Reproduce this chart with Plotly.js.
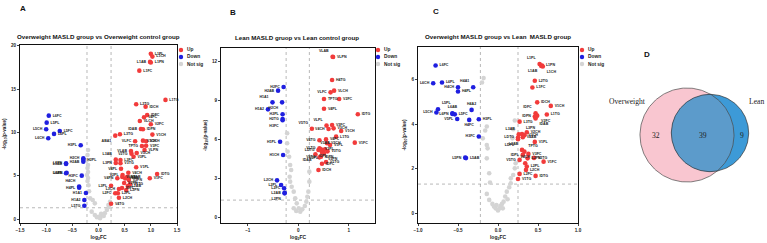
<!DOCTYPE html>
<html><head><meta charset="utf-8">
<script src="https://cdn.plot.ly/plotly-3.0.1.min.js"></script>
<style>html,body{margin:0;padding:0;background:#fff;}#chart{width:767px;height:243px;}</style>
</head><body><div id="chart"></div>
<script>
// ---------- Panel A: Overweight MASLD vs Overweight control ----------
const aUpLab = ["L1PL","L1CH","L1AB","L1PN","L1FC","L1TG","L2TG","IDCH","IDFC","V4FC","VLCH","V2FC","IDAB","IDPN","L3TG","ABA1","V1CH","VLFC","V3CH","V2CH","V3FC","TPTG","VLPN","VLAB","V2TG","V5CH","V3PL","L3AB","L3PN","L3FC","V3TG","V4PL","V1PL","IDTG","V1FC","V2PL","V4CH","V4PN","V1TG","L3PL","L3CH","L2PL","L2CH","L2FC","V4TG","V3AB","V4AB","V2AB","V3PN","V2PN","L2AB","IDPL","L2PN"];
const aUpX = [1.00,1.03,0.985,1.00,0.78,1.28,0.72,0.90,0.93,0.87,0.79,1.00,0.81,0.85,0.41,0.32,1.03,0.70,0.85,0.91,0.91,0.83,0.88,0.62,0.63,0.73,0.67,0.33,0.33,0.42,0.42,0.43,0.72,1.12,0.98,0.46,0.57,0.36,0.60,0.24,0.39,0.37,0.39,0.32,0.24,0.455,0.51,0.545,0.58,0.49,0.56,0.45,0.53];
const aUpY = [19.08,18.76,18.15,18.07,17.14,13.76,13.26,12.98,12.02,11.76,11.33,10.95,10.40,10.37,9.79,9.63,9.75,8.98,9.05,8.98,8.47,8.44,7.98,7.86,7.55,7.63,7.20,6.86,6.47,6.82,6.44,5.81,5.98,5.20,4.71,5.09,5.35,4.71,4.01,3.85,3.47,2.97,2.46,2.97,1.77,4.86,4.68,4.86,4.51,4.16,3.82,3.58,3.35];
const aDnLab = ["L6FC","L5PL","L5CH","L5FC","L6PL","L6CH","H3PL","H2CH","H2PL","H2AB","L5PN","L5AB","L6PN","L6AB","H3FC","H4CH","H4PL","H1A1","H1A2","L5TG"];
const aDnX = [-0.95,-0.99,-1.00,-0.74,-0.85,-0.96,-0.34,-0.29,-0.29,-0.29,-0.62,-0.62,-0.61,-0.62,-0.32,-0.37,-0.37,-0.24,-0.27,-0.27];
const aDnY = [11.94,11.13,10.37,10.17,9.83,9.33,8.52,7.02,6.86,6.62,6.44,6.36,5.35,5.28,5.01,3.75,3.62,3.01,2.20,1.54];
const aNsX = [-0.20,-0.21,-0.22,-0.20,-0.21,-0.20,-0.22,-0.20,-0.21,-0.19,-0.16,-0.11,-0.07,-0.13,-0.07,0.00,0.03,0.06,0.12,0.16,0.19,0.22,0.05,0.10,-0.03,-0.18,0.20];
const aNsY = [7.98,7.40,6.82,6.24,5.90,5.43,5.09,4.74,4.39,3.90,2.39,2.20,1.81,0.85,0.46,0.27,0.08,0.46,0.66,1.04,1.62,2.00,0.60,0.35,0.20,3.20,1.40];

// ---------- Panel B: Lean MASLD vs Lean control ----------
const bUpLab = ["VLPN","VLAB","H4TG","VLFC","VLCH","TPTG","V2FC","V4PL","IDTG","V5TG","VLPL","V3FC","V3CH","V4CH","V1CH","V4TG","V4FC","L1TG","V2CH","V1PL","V1FC","VLTG","LDTG","V3PL","IDPL","V3AB","V2PL","V3PN","V3TG","V2TG","IDPN","V1TG","IDFC","IDCH","IDAB"];
const bUpX = [0.69,0.68,0.67,0.64,0.71,0.51,0.81,0.51,1.18,0.27,0.56,0.67,0.70,0.60,0.85,0.42,0.55,0.75,0.57,0.63,1.12,0.42,0.40,0.45,0.49,0.53,0.47,0.51,0.58,0.42,0.45,0.55,0.47,0.40,0.34];
const bUpY = [12.31,12.33,10.54,9.59,9.72,9.08,9.08,8.33,7.90,6.79,7.03,7.08,6.82,6.77,6.62,5.90,5.97,6.18,5.67,5.54,5.72,5.28,5.15,5.21,5.10,5.21,4.97,4.89,5.05,4.59,4.64,4.23,4.10,3.62,4.82];
const bDnLab = ["H2FC","H2AB","H1A1","H2CH","H1A2","H2PL","H2TG","H3FC","H1PL","H1CH","L2CH","L2PL","L2FC","L2AB","L2PN"];
const bDnX = [-0.29,-0.40,-0.51,-0.32,-0.60,-0.31,-0.31,-0.31,-0.36,-0.30,-0.42,-0.34,-0.28,-0.27,-0.27];
const bDnY = [10.00,9.72,8.82,8.82,8.28,7.90,7.54,7.45,5.79,4.77,2.82,2.46,2.21,1.87,1.82];
const bNsX = [-0.22,-0.22,-0.21,-0.18,-0.16,-0.14,-0.17,-0.16,-0.13,-0.09,-0.06,-0.03,0.01,0.04,0.08,0.13,0.16,0.18,0.20,0.22,0.22,-0.09,-0.04];
const bNsY = [6.44,5.67,5.03,4.64,4.00,3.62,3.10,2.72,2.33,1.95,1.44,1.05,0.67,0.41,0.59,0.85,1.18,1.56,1.95,2.72,3.49,0.67,0.46];

// ---------- Panel C: Overweight MASLD vs Lean MASLD ----------
const cUpLab = ["L1PL","L1PN","L1AB","L1CH","L2TG","L1FC","IDCH","V1CH","IDFC","V2FC","IDPN","L1TG","IDAB","L3TG","V2CH","L3AB","L3PN","V3CH","LDTG","LDPL","V4AB","V1PL","L2AB","TPTG","V3FC","IDPL","L2PN","V2TG","V1FC","V5TG","V4CH","L2PL","L2CH","L2FC","IDTG","V1TG"];
const cUpX = [0.52,0.55,0.54,0.56,0.46,0.43,0.49,0.66,0.47,0.49,0.46,0.61,0.47,0.27,0.36,0.26,0.30,0.33,0.25,0.25,0.31,0.46,0.30,0.33,0.38,0.31,0.37,0.45,0.57,0.27,0.34,0.36,0.35,0.27,0.47,0.25];
const cUpY = [6.70,6.64,6.62,6.59,5.95,5.65,4.98,4.82,4.49,4.38,4.34,4.43,4.25,4.11,3.63,3.54,3.55,3.50,3.40,3.32,3.41,3.20,2.84,2.76,2.66,2.62,2.46,2.48,2.31,2.39,2.24,2.09,1.94,1.76,1.67,1.53];
const cDnLab = ["L6FC","L6CH","L6PL","H4CH","H4A1","H4PL","L5PL","L5CH","L6AB","L6PN","L5FC","H4A2","V5PL","H4FC","H3PL","H3FC","L5PN","L5AB"];
const cDnX = [-0.78,-0.81,-0.70,-0.50,-0.31,-0.50,-0.75,-0.77,-0.57,-0.57,-0.54,-0.33,-0.51,-0.36,-0.24,-0.24,-0.41,-0.40];
const cDnY = [6.64,5.84,5.87,5.66,5.66,5.47,4.67,4.52,4.49,4.46,4.44,4.64,4.23,4.19,4.22,3.44,2.49,2.47];
const cNsX = [-0.18,-0.20,-0.14,-0.16,-0.19,-0.14,-0.13,-0.14,-0.11,-0.10,-0.14,-0.11,-0.07,-0.03,0.00,0.02,0.05,0.07,0.09,0.11,0.14,0.16,0.16,0.19,0.21,0.22,0.18,0.19,0.21,-0.05,-0.02,0.03,0.06,0.12];
const cNsY = [6.07,5.87,3.89,3.71,3.36,3.06,2.91,2.46,1.79,1.37,0.86,0.59,0.41,0.21,0.11,0.21,0.41,0.51,0.74,0.96,1.16,1.34,1.56,1.71,2.01,2.24,3.36,3.77,4.16,0.29,0.36,0.32,0.21,0.62];

// thresholds
const aFcCuts = [-0.22, 0.24];
const bFcCuts = [-0.24, 0.22];
const cFcCuts = [-0.22, 0.25];
const pCut = 1.30103; // -log10(0.05)

// ---------- Panel D: Venn ----------
const vennNames = ["Overweight", "Lean"];
const onlyOverweight = 32;
const bothGroups = 39;
const onlyLean = 9;

// ---------- styling ----------
const RED = "#F23B3B", BLUE = "#1F1FE0", GREY = "#D4D4D4";
const W = 767, H = 243;
const FONT = "Liberation Sans, Arial, sans-serif";
const labFont = {family: FONT, size: 3.6, color: "#222", weight: "bold"};

const posA = {up: {"L1AB":"middle left","IDAB":"middle left","ABA1":"bottom left","VLFC":"middle left","TPTG":"middle left","VLAB":"middle left","V2TG":"middle left","L3AB":"top left","L3PN":"middle left","V4PL":"middle left","L3PL":"middle left","V4PN":"middle left","L2FC":"middle left","L3CH":"middle left","V2PL":"middle left"},
  dn: {"L6FC":"middle right","L5PL":"middle right","L5FC":"middle right","L6PL":"middle right","H2PL":"middle right","H4CH":"top left"}, dnDefault:"middle left"};
const posB = {up: {"VLAB":"top left","VLFC":"middle left","V5TG":"top left","VLPL":"top left","V4CH":"middle left","V4TG":"middle left","VLTG":"middle left","LDTG":"middle left","V2TG":"middle left","IDAB":"bottom left","IDPL":"bottom center","V3AB":"top center","V2PL":"bottom left","V3PN":"bottom right"},
  dn: {"H1A1":"top left","H2CH":"bottom left","H3FC":"bottom left","L2PN":"bottom left"}, dnDefault:"middle left"};
const posC = {up: {"L1PL":"top left","L1AB":"bottom left","L1CH":"bottom right","V2FC":"bottom right","IDAB":"bottom right","IDFC":"top left","IDPN":"middle left","L3AB":"top left","L3PN":"top right","LDTG":"middle left","LDPL":"bottom left","L2AB":"top left","TPTG":"top right","IDPL":"middle left","V5TG":"middle left","V4CH":"top center"},
  dn: {"L6CH":"middle left","H4CH":"middle left","H4A1":"top left","L5PL":"top right","L5CH":"middle left","L6AB":"top center","L6PN":"middle left","H4A2":"top center","V5PL":"middle left","H4FC":"bottom center","H3FC":"middle left","L5PN":"middle left"}, dnDefault:"middle right"};

function positions(labels, map, def){ return labels.map(l => map[l] || def); }

const traces = [];
function addPanel(k, up, dn, ns, pos){
  const xa = k===1 ? "x" : "x"+k, ya = k===1 ? "y" : "y"+k;
  traces.push({type:"scatter", mode:"markers", x:ns[0], y:ns[1], xaxis:xa, yaxis:ya,
    marker:{color:GREY, size:4.6}, name:"Not sig", showlegend:false, cliponaxis:false});
  traces.push({type:"scatter", mode:"markers+text", x:dn[0], y:dn[1], text:dn[2], xaxis:xa, yaxis:ya,
    textposition: positions(dn[2], pos.dn, pos.dnDefault), textfont: labFont,
    marker:{color:BLUE, size:4.6}, name:"Down", showlegend:false, cliponaxis:false});
  traces.push({type:"scatter", mode:"markers+text", x:up[0], y:up[1], text:up[2], xaxis:xa, yaxis:ya,
    textposition: positions(up[2], pos.up, "middle right"), textfont: labFont,
    marker:{color:RED, size:4.6}, name:"Up", showlegend:false, cliponaxis:false});
}
addPanel(1, [aUpX,aUpY,aUpLab], [aDnX,aDnY,aDnLab], [aNsX,aNsY], posA);
addPanel(2, [bUpX,bUpY,bUpLab], [bDnX,bDnY,bDnLab], [bNsX,bNsY], posB);
addPanel(3, [cUpX,cUpY,cUpLab], [cDnX,cDnY,cDnLab], [cNsX,cNsY], posC);

// ---- Venn geometry from set sizes ----
const sizeOW = onlyOverweight + bothGroups, sizeLean = onlyLean + bothGroups;
const kR = 5.58;
const rOW = kR*Math.sqrt(sizeOW), rLean = kR*Math.sqrt(sizeLean);
const cOW = [687, 108], cLean = [710, 110];
function circlePts(c, r, n){ const xs=[], ys=[]; for(let i=0;i<=n;i++){const t=2*Math.PI*i/n; xs.push(c[0]+r*Math.cos(t)); ys.push(c[1]+r*Math.sin(t));} return [xs,ys]; }
const owC = circlePts(cOW, rOW, 240), leC = circlePts(cLean, rLean, 240);
let lens = [];
owC[0].forEach((x,i)=>{const y=owC[1][i]; if(Math.hypot(x-cLean[0],y-cLean[1])<=rLean) lens.push([x,y]);});
leC[0].forEach((x,i)=>{const y=leC[1][i]; if(Math.hypot(x-cOW[0],y-cOW[1])<=rOW) lens.push([x,y]);});
const gx = lens.reduce((s,p)=>s+p[0],0)/lens.length, gy = lens.reduce((s,p)=>s+p[1],0)/lens.length;
lens.sort((p,q)=>Math.atan2(p[1]-gy,p[0]-gx)-Math.atan2(q[1]-gy,q[0]-gx));
lens.push(lens[0]);
const vx = "x4", vy = "y4";
traces.push({type:"scatter", mode:"lines", x:owC[0], y:owC[1], xaxis:vx, yaxis:vy, fill:"toself", fillcolor:"#F9C6D0", line:{width:0}, showlegend:false});
traces.push({type:"scatter", mode:"lines", x:leC[0], y:leC[1], xaxis:vx, yaxis:vy, fill:"toself", fillcolor:"#3D9AD7", line:{width:0}, showlegend:false});
traces.push({type:"scatter", mode:"lines", x:lens.map(p=>p[0]), y:lens.map(p=>p[1]), xaxis:vx, yaxis:vy, fill:"toself", fillcolor:"#5C9BCB", line:{width:0}, showlegend:false});
traces.push({type:"scatter", mode:"lines", x:owC[0], y:owC[1], xaxis:vx, yaxis:vy, line:{color:"#4a4a4a", width:0.7}, showlegend:false});
traces.push({type:"scatter", mode:"lines", x:leC[0], y:leC[1], xaxis:vx, yaxis:vy, line:{color:"#333", width:0.7}, showlegend:false});

// ---- layout ----
function px(x){return x/W;} function py(y){return 1-y/H;}
const tickF = {family: FONT, size: 4.6, color:"#222", weight:"bold"};
function xaxisDef(dom, range, dtick, fmt, anchor){
  return {domain:dom, range:range, dtick:dtick, tickformat:fmt, anchor:anchor, showline:true, mirror:true,
    linecolor:"#111", linewidth:1, ticks:"outside", ticklen:2, tickwidth:0.8, tickcolor:"#111",
    showgrid:false, zeroline:false, tickfont:tickF,
    title:{text:"log<sub>2</sub>FC", font:{family:FONT, size:5, color:"#222", weight:"bold"}, standoff:3}};
}
function yaxisDef(dom, range, dtick, anchor){
  return {domain:dom, range:range, dtick:dtick, anchor:anchor, showline:true, mirror:true,
    linecolor:"#111", linewidth:1, ticks:"outside", ticklen:2, tickwidth:0.8, tickcolor:"#111",
    showgrid:false, zeroline:false, tickfont:tickF,
    title:{text:"-log<sub>10</sub>(p-value)", font:{family:FONT, size:4.6, color:"#222", weight:"bold"}, standoff:4}};
}
const layout = {
  width:W, height:H, margin:{l:0,r:0,t:0,b:0}, paper_bgcolor:"#fff", plot_bgcolor:"#fff",
  showlegend:false, hovermode:false,
  xaxis: xaxisDef([px(20),px(177)], [-1.5,1.5], 0.5, ".1f", "y"),
  yaxis: yaxisDef([py(223),py(45)], [-0.46,20.1], 5, "x"),
  xaxis2: xaxisDef([px(221),px(375)], [-1.53,1.52], 1, "", "y2"),
  yaxis2: yaxisDef([py(223),py(48)], [-0.46,13], 3, "x2"),
  xaxis3: xaxisDef([px(418),px(578)], [-1,1], 0.5, ".1f", "y3"),
  yaxis3: yaxisDef([py(223),py(47)], [-0.45,7.47], 2, "x3"),
  xaxis4: {domain:[px(600),1], range:[600,767], visible:false, anchor:"y4"},
  yaxis4: {domain:[py(223),py(20)], range:[20,223], visible:false, anchor:"x4"},
  shapes: [], annotations: []
};
[[aFcCuts,"x","y"],[bFcCuts,"x2","y2"],[cFcCuts,"x3","y3"]].forEach(([cuts,xr,yr])=>{
  cuts.forEach(c=>layout.shapes.push({type:"line", xref:xr, yref:yr+" domain", x0:c, x1:c, y0:0, y1:1, line:{color:"#9a9a9a", width:0.7, dash:"dot"}, layer:"below"}));
  layout.shapes.push({type:"line", xref:xr+" domain", yref:yr, x0:0, x1:1, y0:pCut, y1:pCut, line:{color:"#9a9a9a", width:0.7, dash:"dot"}, layer:"below"});
});
const legendItems = [["Up",RED],["Down",BLUE],["Not sig",GREY]];
[181, 378, 582].forEach(lx=>{
  legendItems.forEach(([name,col],i)=>{
    const ly = 50 + i*7;
    layout.shapes.push({type:"circle", xref:"paper", yref:"paper", xsizemode:"pixel", ysizemode:"pixel",
      xanchor:px(lx), yanchor:py(ly), x0:-2.2, x1:2.2, y0:-2.2, y1:2.2, fillcolor:col, line:{width:0}});
    layout.annotations.push({xref:"paper", yref:"paper", x:px(lx+4), y:py(ly), xanchor:"left", yanchor:"middle",
      text:name, showarrow:false, font:{family:FONT, size:4.8, color:"#222", weight:"bold"}});
  });
});
[["Overweight MASLD group vs Overweight control group",98,37],["Lean MASLD gruop vs Lean control group",297,38],["Overweight MASLD group vs Lean  MASLD group",498,37]].forEach(([t,x,y])=>{
  layout.annotations.push({xref:"paper", yref:"paper", x:px(x), y:py(y), xanchor:"center", yanchor:"middle",
    text:t.replace(/  /g," &nbsp;"), showarrow:false, font:{family:FONT, size:6.2, color:"#111", weight:"bold"}});
});
[["A",23,9],["B",233,12],["C",436,11],["D",647,54]].forEach(([t,x,y])=>{
  layout.annotations.push({xref:"paper", yref:"paper", x:px(x), y:py(y), xanchor:"center", yanchor:"middle",
    text:t, showarrow:false, font:{family:FONT, size:8, color:"#111", weight:"bold"}});
});
const serif = {family:"Liberation Serif, Times New Roman, serif", size:7.6, color:"#222"};
layout.annotations.push({xref:"x4", yref:"y4", x:627, y:141, text:vennNames[0], showarrow:false, font:serif});
layout.annotations.push({xref:"x4", yref:"y4", x:756, y:141, text:vennNames[1], showarrow:false, font:serif});
layout.annotations.push({xref:"x4", yref:"y4", x:cOW[0]-rOW+16, y:108, text:String(onlyOverweight), showarrow:false, font:serif});
layout.annotations.push({xref:"x4", yref:"y4", x:703, y:108, text:String(bothGroups), showarrow:false, font:serif});
layout.annotations.push({xref:"x4", yref:"y4", x:cLean[0]+rLean-7, y:108, text:String(onlyLean), showarrow:false, font:serif});

Plotly.newPlot("chart", traces, layout, {staticPlot:true, displayModeBar:false});
</script></body></html>
